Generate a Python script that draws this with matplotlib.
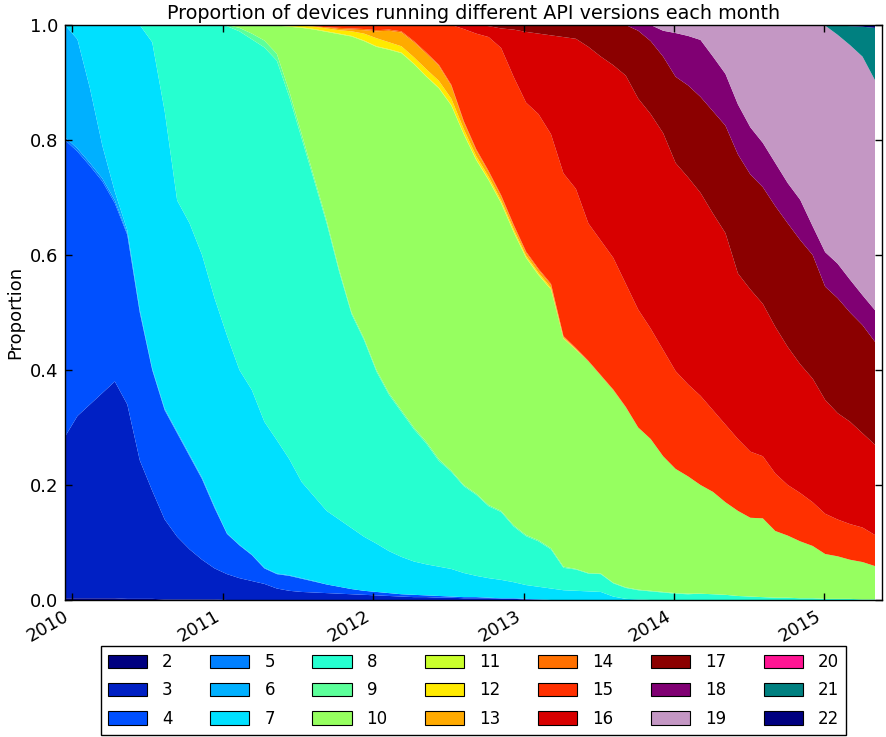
import numpy as np
import pandas as pd
import matplotlib
matplotlib.use("Agg")
import matplotlib.pyplot as plt
import matplotlib.dates as mdates
from matplotlib.patches import Patch

# ---------------- data ----------------
dates = pd.date_range("2009-12-14", "2015-05-04", periods=66)
versions = [str(v) for v in range(2, 23)]

api2 = [0.003] * 5 + [0.002] * 3 + [0.001] * 5 + [0.0] * 53
api3 = [0.281, 0.317, 0.337, 0.357, 0.377, 0.338, 0.241, 0.188, 0.139, 0.109,
        0.087, 0.069, 0.054, 0.045, 0.038, 0.033, 0.028, 0.02, 0.016, 0.014,
        0.013, 0.012, 0.011, 0.01, 0.009, 0.008, 0.007, 0.006, 0.005, 0.005,
        0.004, 0.004, 0.003, 0.003, 0.003, 0.002, 0.002, 0.001] + [0.0] * 28
api4 = [0.516, 0.46, 0.415, 0.368, 0.31, 0.295, 0.257, 0.21, 0.19, 0.18,
        0.162, 0.14, 0.105, 0.07, 0.057, 0.045, 0.027, 0.025, 0.026, 0.023,
        0.019, 0.015, 0.012, 0.009, 0.007, 0.006, 0.005, 0.004, 0.004, 0.003,
        0.003, 0.002, 0.002, 0.002, 0.001, 0.001, 0.001, 0.001, 0.001] + [0.0] * 27
api5 = [0.005] * 5 + [0.003, 0.002] + [0.001] * 6 + [0.0] * 53
api6 = [0.195, 0.19, 0.13, 0.057, 0.015, 0.005, 0.003, 0.002, 0.002, 0.002,
        0.002, 0.002, 0.002] + [0.001] * 8 + [0.0] * 45
api7 = [0.0, 0.025, 0.11, 0.21, 0.29, 0.357, 0.495, 0.567, 0.517, 0.402,
        0.402, 0.387, 0.362, 0.344, 0.304, 0.286, 0.254, 0.232, 0.202, 0.167,
        0.147, 0.128, 0.117, 0.106, 0.094, 0.084, 0.073, 0.065, 0.058, 0.054,
        0.051, 0.048, 0.042, 0.037, 0.034, 0.032, 0.028, 0.024, 0.022, 0.02,
        0.017, 0.016, 0.015, 0.014, 0.006, 0.002, 0.001] + [0.0] * 19
api8 = [0.0] * 7 + [0.03, 0.15, 0.305, 0.345, 0.40, 0.475, 0.538, 0.589, 0.61,
        0.651, 0.66, 0.63, 0.597, 0.549, 0.50, 0.431, 0.372, 0.342, 0.299,
        0.272, 0.252, 0.23, 0.21, 0.184, 0.169, 0.151, 0.141, 0.125, 0.118,
        0.097, 0.085, 0.079, 0.068, 0.039, 0.037, 0.031, 0.031, 0.023, 0.019,
        0.016, 0.015, 0.013, 0.011, 0.010, 0.011, 0.010, 0.009, 0.007, 0.006,
        0.005, 0.004, 0.004, 0.003, 0.003, 0.002, 0.002, 0.002, 0.001, 0.001]
api9 = ([0.0] * 13 + [0.002, 0.006, 0.01, 0.012, 0.012, 0.01, 0.008, 0.006,
        0.005, 0.004] + [0.003] * 8 + [0.002] * 10 + [0.001] * 10 + [0.0] * 15)
api10 = [0.0] * 14 + [0.005, 0.015, 0.027, 0.049, 0.112, 0.185, 0.257, 0.328,
         0.409, 0.48, 0.517, 0.562, 0.597, 0.621, 0.632, 0.635, 0.645, 0.635,
         0.61, 0.58, 0.565, 0.535, 0.51, 0.482, 0.461, 0.45, 0.397, 0.381,
         0.368, 0.344, 0.335, 0.313, 0.282, 0.264, 0.236, 0.216, 0.204, 0.189,
         0.178, 0.161, 0.148, 0.137, 0.137, 0.116, 0.108, 0.099, 0.091, 0.078,
         0.074, 0.068, 0.065, 0.058]
api11 = [0.0] * 18 + [0.001] * 21 + [0.0] * 27
api12 = [0.0] * 17 + [0.001, 0.002, 0.003, 0.004, 0.005, 0.006, 0.008, 0.012,
         0.014, 0.012, 0.011, 0.011, 0.012, 0.012, 0.011, 0.008, 0.006, 0.005,
         0.004, 0.004, 0.003, 0.003, 0.003, 0.001, 0.001] + [0.0] * 24
api13 = [0.0] * 19 + [0.001, 0.001, 0.002, 0.002, 0.003, 0.006, 0.012, 0.02,
         0.024, 0.026, 0.027, 0.026, 0.022, 0.012, 0.01, 0.008, 0.007, 0.006,
         0.005, 0.005, 0.005, 0.002, 0.001] + [0.0] * 24
api14 = [0.0] * 22 + [0.002] * 18 + [0.001] * 6 + [0.0] * 20
api15 = [0.0] * 20 + [0.002, 0.004, 0.005, 0.006, 0.007, 0.009, 0.008, 0.011,
         0.028, 0.048, 0.069, 0.104, 0.16, 0.201, 0.233, 0.256, 0.257, 0.259,
         0.269, 0.26, 0.283, 0.277, 0.239, 0.234, 0.229, 0.214, 0.205, 0.192,
         0.185, 0.17, 0.16, 0.155, 0.142, 0.135, 0.125, 0.115, 0.108, 0.10,
         0.088, 0.084, 0.076, 0.07, 0.064, 0.062, 0.06, 0.054]
api16 = [0.0] * 32 + [0.007, 0.015, 0.019, 0.034, 0.082, 0.123, 0.14, 0.172,
         0.237, 0.261, 0.307, 0.32, 0.335, 0.362, 0.367, 0.373, 0.377, 0.362,
         0.36, 0.353, 0.342, 0.333, 0.288, 0.282, 0.265, 0.255, 0.24, 0.224,
         0.215, 0.198, 0.185, 0.178, 0.164, 0.157]
api17 = [0.0] * 34 + [0.002, 0.006, 0.008, 0.012, 0.015, 0.018,
         0.021, 0.024, 0.038, 0.055, 0.07, 0.088, 0.118, 0.127, 0.133, 0.15,
         0.16, 0.167, 0.178, 0.187, 0.207, 0.20, 0.203, 0.21, 0.215, 0.216,
         0.215, 0.197, 0.20, 0.19, 0.188, 0.179]
api18 = [0.0] * 46 + [0.01, 0.028, 0.045, 0.076, 0.086, 0.099, 0.095, 0.09,
         0.087, 0.082, 0.077, 0.075, 0.07, 0.07, 0.05, 0.06, 0.06, 0.057,
         0.052, 0.055]
api19 = [0.0] * 48 + [0.01, 0.014, 0.019, 0.026, 0.055, 0.085, 0.138, 0.178,
         0.205, 0.24, 0.275, 0.304, 0.35, 0.394, 0.398, 0.408, 0.415, 0.40]
api20 = [0.0] * 66
api21 = [0.0] * 62 + [0.016, 0.033, 0.052, 0.091]
api22 = [0.0] * 61 + [0.001, 0.001, 0.002, 0.003, 0.005]

series = [api2, api3, api4, api5, api6, api7, api8, api9, api10, api11, api12,
          api13, api14, api15, api16, api17, api18, api19, api20, api21, api22]
for s in series:
    assert len(s) == 66, len(s)

colors = ['#000080', '#0020C4', '#0050FF', '#0080FF', '#00B0FF', '#00E0FF',
          '#26FFD0', '#5CFF9A', '#96FF60', '#CAFF2C', '#FFEA00', '#FFAA00',
          '#FF7000', '#FF3000', '#D80000', '#8B0000', '#800073', '#C497C4',
          '#FF1493', '#008080', '#000080']

vals = np.array(series, dtype=float)
vals = vals / vals.sum(axis=0)

# ---------------- plot ----------------
plt.rcParams['font.family'] = ['DejaVu Sans']
fig = plt.figure(figsize=(8.86, 7.37), dpi=100)
ax = fig.add_axes([65 / 886, 1 - 600 / 737, (882 - 65) / 886, (600 - 25) / 737])

ax.stackplot(dates, vals, colors=colors, linewidth=0)

ax.set_ylim(0, 1)
ax.set_xlim(dates[0], pd.Timestamp("2015-05-21"))
ax.xaxis.set_major_locator(mdates.YearLocator())
ax.xaxis.set_major_formatter(mdates.DateFormatter("%Y"))
ax.set_yticks(np.arange(0, 1.01, 0.2))
ax.tick_params(direction='in', top=True, right=True, length=5, width=1,
               labelsize=13, pad=5)
for lab in ax.get_xticklabels():
    lab.set_rotation(30)
    lab.set_ha('right')
for sp in ax.spines.values():
    sp.set_linewidth(1.0)

ax.set_title("Proportion of devices running different API versions each month",
             fontsize=13.8, pad=4)
ax.set_ylabel("Proportion", fontsize=13, labelpad=4)

handles = [Patch(facecolor=c, edgecolor='black', linewidth=0.8) for c in colors]
leg = ax.legend(handles, versions, ncol=7, loc='upper center',
                bbox_to_anchor=(0.5, -0.08), borderaxespad=0, fontsize=12,
                fancybox=False, framealpha=1, edgecolor='black',
                handlelength=2.35, handleheight=0.85, handletextpad=0.9,
                columnspacing=2.25, labelspacing=0.62, borderpad=0.42)
leg.get_frame().set_linewidth(1.0)

fig.savefig("out.png", dpi=100)
